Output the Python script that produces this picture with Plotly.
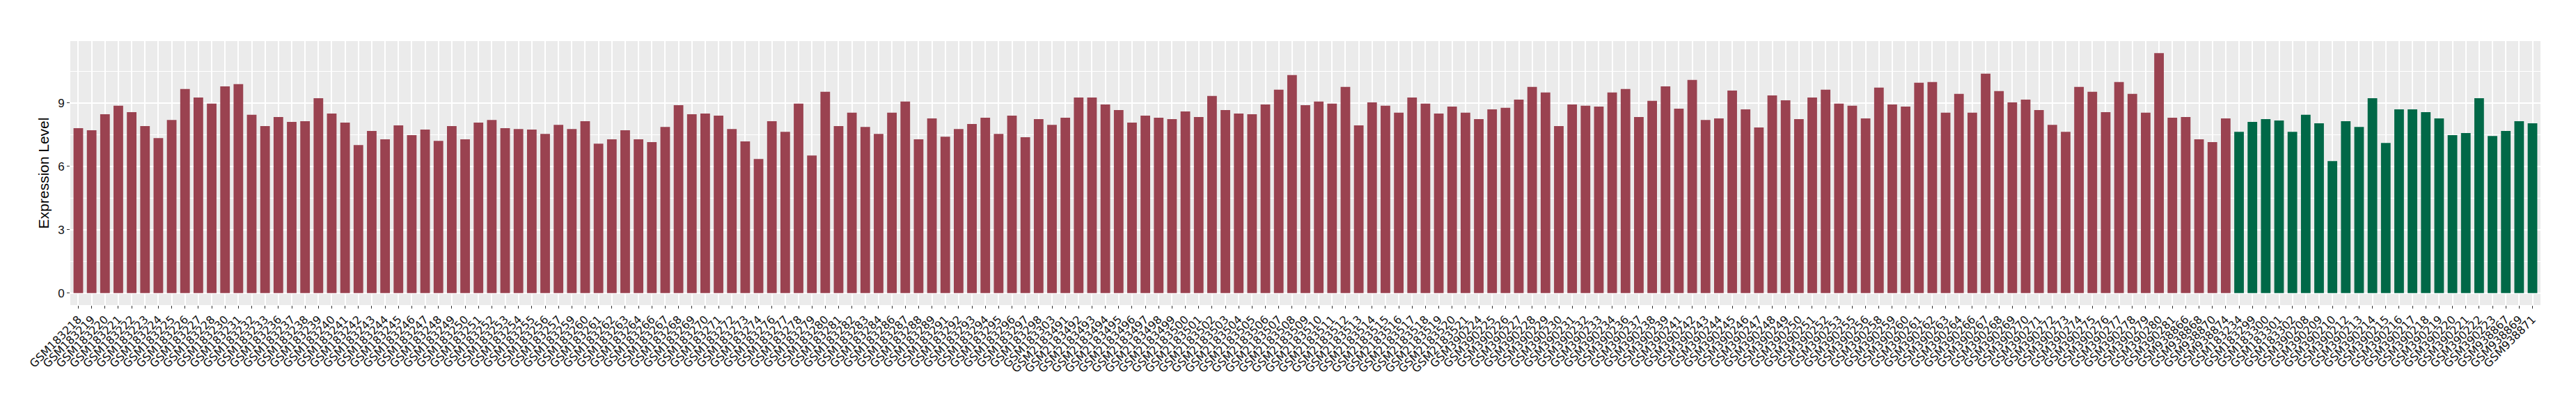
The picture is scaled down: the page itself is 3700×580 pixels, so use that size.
import plotly.graph_objects as go

# ---- data ----
red_samples = [
    "GSM183218", "GSM183219", "GSM183220", "GSM183221", "GSM183222", "GSM183223", "GSM183224",
    "GSM183225", "GSM183226", "GSM183227", "GSM183228", "GSM183230", "GSM183231", "GSM183232",
    "GSM183233", "GSM183236", "GSM183237", "GSM183238", "GSM183239", "GSM183240", "GSM183241",
    "GSM183242", "GSM183243", "GSM183244", "GSM183245", "GSM183246", "GSM183247", "GSM183248",
    "GSM183249", "GSM183250", "GSM183251", "GSM183252", "GSM183253", "GSM183254", "GSM183255",
    "GSM183256", "GSM183257", "GSM183259", "GSM183260", "GSM183261", "GSM183262", "GSM183263",
    "GSM183264", "GSM183266", "GSM183267", "GSM183268", "GSM183269", "GSM183270", "GSM183271",
    "GSM183272", "GSM183273", "GSM183274", "GSM183276", "GSM183277", "GSM183278", "GSM183279",
    "GSM183280", "GSM183281", "GSM183282", "GSM183283", "GSM183284", "GSM183286", "GSM183287",
    "GSM183288", "GSM183289", "GSM183291", "GSM183292", "GSM183293", "GSM183294", "GSM183295",
    "GSM183296", "GSM183297", "GSM183298", "GSM183303",
    "GSM2183491", "GSM2183492", "GSM2183493", "GSM2183494", "GSM2183495", "GSM2183496",
    "GSM2183497", "GSM2183498", "GSM2183499", "GSM2183500", "GSM2183501", "GSM2183502",
    "GSM2183503", "GSM2183504", "GSM2183505", "GSM2183506", "GSM2183507", "GSM2183508",
    "GSM2183509", "GSM2183510", "GSM2183511", "GSM2183512", "GSM2183513", "GSM2183514",
    "GSM2183515", "GSM2183516", "GSM2183517", "GSM2183518", "GSM2183519", "GSM2183520",
    "GSM2183521",
    "GSM390224", "GSM390225", "GSM390226", "GSM390227", "GSM390228", "GSM390229", "GSM390230",
    "GSM390231", "GSM390232", "GSM390233", "GSM390234", "GSM390236", "GSM390237", "GSM390238",
    "GSM390239", "GSM390241", "GSM390242", "GSM390243", "GSM390244", "GSM390245", "GSM390246",
    "GSM390247", "GSM390248", "GSM390249", "GSM390250", "GSM390251", "GSM390252", "GSM390253",
    "GSM390255", "GSM390256", "GSM390258", "GSM390259", "GSM390260", "GSM390261", "GSM390262",
    "GSM390263", "GSM390264", "GSM390266", "GSM390267", "GSM390268", "GSM390269", "GSM390270",
    "GSM390271", "GSM390272", "GSM390273", "GSM390274", "GSM390275", "GSM390276", "GSM390277",
    "GSM390278", "GSM390279", "GSM390280", "GSM390281",
    "GSM938866", "GSM938868", "GSM938870", "GSM938874",
]
red_values = [
    7.80, 7.70, 8.46, 8.86, 8.56, 7.90, 7.33, 8.19, 9.65, 9.25,
    8.96, 9.78, 9.88, 8.43, 7.90, 8.33, 8.10, 8.13, 9.22, 8.49,
    8.06, 7.00, 7.67, 7.27, 7.93, 7.47, 7.73, 7.20, 7.90, 7.27,
    8.06, 8.19, 7.80, 7.76, 7.73, 7.53, 7.96, 7.76, 8.13, 7.07,
    7.27, 7.70, 7.27, 7.14, 7.86, 8.89, 8.46, 8.49, 8.39, 7.76,
    7.17, 6.34, 8.13, 7.63, 8.96, 6.51, 9.52, 7.90, 8.53, 7.86,
    7.53, 8.53, 9.06, 7.27, 8.26, 7.40, 7.76, 8.00, 8.29, 7.53,
    8.39, 7.37, 8.23, 7.96, 8.29, 9.25, 9.25, 8.92, 8.66, 8.06,
    8.39, 8.29, 8.23, 8.59, 8.33, 9.32, 8.66, 8.49, 8.46, 8.92,
    9.62, 10.31, 8.89, 9.06, 8.96, 9.75, 7.93, 9.02, 8.86, 8.53,
    9.25, 8.96, 8.49, 8.82, 8.53, 8.23, 8.69, 8.76, 9.15, 9.75,
    9.49, 7.90, 8.92, 8.86, 8.82, 9.49, 9.65, 8.33, 9.09, 9.78,
    8.72, 10.08, 8.19, 8.26, 9.58, 8.69, 7.83, 9.35, 9.12, 8.23,
    9.25, 9.62, 8.96, 8.86, 8.26, 9.72, 8.92, 8.82, 9.95, 9.98,
    8.53, 9.42, 8.53, 10.38, 9.55, 9.02, 9.15, 8.66, 7.96, 7.63,
    9.75, 9.52, 8.56, 9.98, 9.42, 8.53, 11.35, 8.29, 8.33, 7.27,
    7.14, 8.26,
]
green_samples = [
    "GSM183234", "GSM183299", "GSM183300", "GSM183301", "GSM183302", "GSM390208", "GSM390209",
    "GSM390210", "GSM390212", "GSM390213", "GSM390214", "GSM390215", "GSM390216", "GSM390217",
    "GSM390218", "GSM390219", "GSM390220", "GSM390221", "GSM390222", "GSM390223", "GSM938867",
    "GSM938869", "GSM938871",
]
green_values = [
    7.63, 8.10, 8.23, 8.16, 7.63, 8.43, 8.03, 6.24, 8.13, 7.86,
    9.22, 7.10, 8.69, 8.69, 8.56, 8.26, 7.47, 7.57, 9.22, 7.43,
    7.67, 8.13, 8.03,
]
y_ticks = [0, 3, 6, 9]
y_title = "Expression Level"

# ---- figure ----
RED = "#9A4250"
GREEN = "#006847"
categories = red_samples + green_samples
ymax = max(red_values + green_values)

fig = go.Figure()
fig.add_trace(go.Bar(x=red_samples, y=red_values, marker=dict(color=RED, line=dict(width=0)),
                     showlegend=False, hoverinfo="x+y"))
fig.add_trace(go.Bar(x=green_samples, y=green_values, marker=dict(color=GREEN, line=dict(width=0)),
                     showlegend=False, hoverinfo="x+y"))

fig.update_layout(
    width=3700, height=580,
    margin=dict(l=93, r=59, t=51, b=150, pad=0),
    paper_bgcolor="white",
    plot_bgcolor="#EBEBEB",
    barmode="overlay",
    bargap=0.28,
    font=dict(family="Liberation Sans, Arial, sans-serif", color="#1A1A1A"),
)
fig.update_xaxes(
    type="category",
    categoryorder="array", categoryarray=categories,
    range=[-0.6, len(categories) - 1 + 0.6],
    tickmode="array", tickvals=categories, ticktext=categories,
    tickangle=-45,
    tickfont=dict(size=16, family="DejaVu Sans, sans-serif", color="#111111"),
    ticks="outside", ticklen=4, tickwidth=1, tickcolor="#333333",
    showgrid=True, gridcolor="white", gridwidth=1.6,
    showline=False, zeroline=False, automargin=False,
)
fig.update_yaxes(
    range=[-0.05 * ymax, 1.05 * ymax],
    tickmode="array", tickvals=y_ticks, ticktext=[str(v) for v in y_ticks],
    tickfont=dict(size=17, family="Liberation Sans, Arial, sans-serif", color="#111111"),
    ticks="outside", ticklen=4, tickwidth=1, tickcolor="#333333",
    showgrid=True, gridcolor="white", gridwidth=1.6,
    minor=dict(tickvals=[1.5, 4.5, 7.5, 10.5], showgrid=True, gridcolor="white", gridwidth=0.8, ticks=""),
    zeroline=False, showline=False, automargin=False,
    title=dict(text=y_title, font=dict(size=21, family="Liberation Sans, Arial, sans-serif", color="black"),
               standoff=6),
)

fig.write_html("out.html")
